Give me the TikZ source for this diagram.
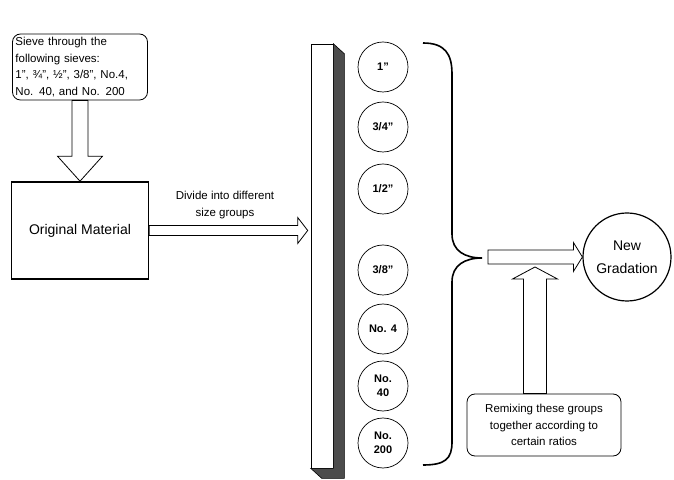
\documentclass[tikz,border=0pt]{standalone}
\usepackage{fontspec}
\setmainfont{Liberation Sans}
\usetikzlibrary{positioning}
\usetikzlibrary{shapes}
\usetikzlibrary{calc}
% #1 from, #2 tip, #3 half shaft, #4 half head, #5 head length
\newcommand{\hollowarrow}[5]{%
  \coordinate (hb) at ($(#2)!#5!(#1)$);
  \draw[hollow] ($(#1)!#3!90:(#2)$) -- ($(hb)!#3!90:(#2)$) -- ($(hb)!#4!90:(#2)$)
    -- (#2) -- ($(hb)!#4!-90:(#2)$) -- ($(hb)!#3!-90:(#2)$) -- ($(#1)!#3!-90:(#2)$) -- cycle;
}
\tikzset{
  roundbox/.style={draw, rounded corners=8pt, line width=0.8pt, inner sep=3pt},
  sizecircle/.style={draw, circle, minimum size=50pt, inner sep=0pt, line width=0.7pt,
    font=\fontsize{11}{14}\selectfont\bfseries, align=center},
  hollow/.style={draw, fill=white, line width=0.8pt, line join=miter},
}

\begin{document}
\begin{tikzpicture}[x=1pt,y=1pt]
\useasboundingbox (0,0) rectangle (674,479);
\node[roundbox, text width=129pt, align=left, minimum height=66pt, font=\fontsize{11.5}{16.5}\selectfont] (sieve) at (80,412) {Sieve through the\\following sieves:\\1", ¾", ½", 3/8", No.4,\\No. 40, and No. 200};
\node[draw, line width=1.6pt, minimum width=137pt, minimum height=97pt, font=\fontsize{14}{16}\selectfont] (orig) at (80,248.5) {Original Material};
\node[align=center, font=\fontsize{11.5}{17}\selectfont] (divlab) at (225,274) {Divide into different\\size groups};
% the sieve stack
\node[draw, fill=white, minimum width=22pt, minimum height=424pt, inner sep=0pt, line width=0.6pt] (bar) at (322,223) {};
\filldraw[fill=black!70, line width=0.6pt] (bar.north east) -- ++(11,-10) -- ($(bar.south east)+(11,-10)$) -- ($(bar.south west)+(11,-10)$) -- (bar.south west) -- (bar.south east) -- cycle;
\node[sizecircle] (s1) at (383,412) {1"};
\node[sizecircle] (s2) at (383,352) {3/4"};
\node[sizecircle] (s3) at (383,290) {1/2"};
\node[sizecircle] (s4) at (383,209) {3/8"};
\node[sizecircle] (s5) at (383,150) {No. 4};
\node[sizecircle] (s6) at (383,93) {No.\\40};
\node[sizecircle] (s7) at (383,36) {No.\\200};
% brace
\draw[line width=1.6pt] (423,436) .. controls (445,436) and (452,425) .. (452,405) -- (452,245) .. controls (452,228) and (465,221) .. (482,221) .. controls (465,221) and (452,214) .. (452,197) -- (452,37) .. controls (452,20) and (445,14) .. (423,14);
\node[draw, circle, minimum size=88pt, line width=1.2pt, align=center, font=\fontsize{14}{23}\selectfont] (newg) at (627,222) {New\\Gradation};
\node[roundbox, align=center, minimum width=154pt, minimum height=62pt, font=\fontsize{11.5}{16.5}\selectfont] (remix) at (544,54) {Remixing these groups\\together according to\\certain ratios};
% arrows
\hollowarrow{sieve.south}{orig.north}{8pt}{22.5pt}{25pt}
\coordinate (divtip) at ($(bar.west |- orig.east)+(-3,0)$);
\hollowarrow{orig.east}{divtip}{5pt}{13pt}{10pt}
\coordinate (mixstart) at (488,222);
\hollowarrow{mixstart}{newg.west}{7pt}{14.5pt}{9pt}
\coordinate (remixtop) at ($(remix.north)+(-9,0)$);
\coordinate (uptip) at (535,212);
\hollowarrow{remixtop}{uptip}{11.5pt}{22.5pt}{12pt}
\end{tikzpicture}
\end{document}
